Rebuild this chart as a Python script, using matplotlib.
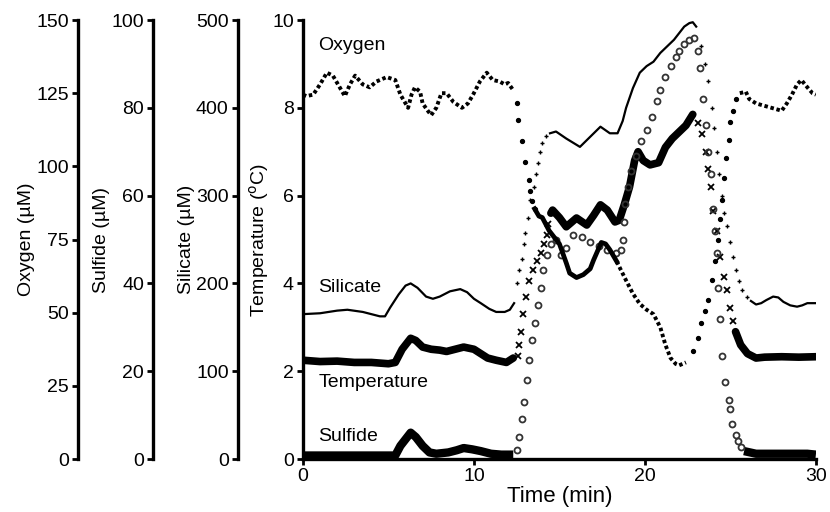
import numpy as np
import matplotlib
matplotlib.use('Agg')
import matplotlib.pyplot as plt

plt.rcParams['font.family'] = ['Liberation Sans', 'DejaVu Sans']

# --- oxygen (uM) ---
oxy_a_t = [0.0, 0.2, 0.6, 1.0, 1.4, 1.75, 2.15, 2.45, 2.75, 3.05, 3.5, 3.9, 4.3, 4.9, 5.4, 5.7, 6.0, 6.15, 6.35, 6.55,
           6.85, 7.0, 7.3, 7.5, 7.8, 8.1, 8.4, 8.8, 9.3, 9.65, 9.95, 10.35, 10.75, 11.1, 11.5, 11.8, 12.0, 12.3]
oxy_a = [124.5, 124, 124.5, 128, 132, 131, 127, 124, 128, 131, 128, 127, 129, 130.5, 129.5, 124.5, 121.5, 120, 124.5, 127,
         125.5, 121.5, 119, 117.5, 120, 125, 125, 122, 120, 121.5, 124.5, 129, 132, 129.5, 129, 128, 128.5, 126]
oxy_drop_t = [12.5, 12.6, 12.8, 13.0, 13.2, 13.3, 13.4, 13.55]
oxy_drop = [121.5, 116, 108.5, 101.5, 95.5, 91.5, 88, 85.5]
oxy_b_t = [13.55, 13.8, 14.0, 14.4, 15.0, 15.4, 15.6, 16.0, 16.4, 16.8, 17.0, 17.45, 17.7, 17.95, 18.35]
oxy_b = [85.5, 83, 82.5, 78, 73.5, 67, 63.5, 62, 63, 65, 68, 74, 73.5, 71.5, 67.5]
oxy_c_t = [18.35, 18.9, 19.3, 19.7, 20.1, 20.5, 20.9, 21.2, 21.5, 21.8, 22.0, 22.4]
oxy_c = [67.5, 61, 56.5, 53, 51, 49.5, 45, 39, 34.5, 32.5, 32, 33]
oxy_rise_t = [22.8, 23.1, 23.3, 23.5, 23.7, 23.9, 24.1, 24.3, 24.4, 24.5, 24.6, 24.75, 24.9, 25.0, 25.15, 25.35]
oxy_rise = [37, 41.5, 46.5, 50.5, 54.5, 61, 67.5, 75, 82, 88.5, 96, 103, 109, 115, 119, 123]
oxy_d_t = [25.55, 25.9, 26.1, 26.5, 27.1, 27.7, 28.0, 28.3, 28.6, 28.9, 29.15, 29.5, 29.8, 30.0]
oxy_d = [125, 125.5, 123, 121.5, 120.5, 119.5, 119, 121.5, 124.5, 128, 129.5, 127, 125, 124.5]

# --- silicate (uM) ---
sil_a_t = [0.0, 1.0, 2.0, 2.6, 3.5, 4.5, 4.8, 5.1, 5.6, 6.0, 6.3, 6.7, 7.2, 7.6, 8.0, 8.6, 9.2, 9.6, 10.0, 10.4,
           10.9, 11.3, 11.8, 12.1, 12.35]
sil_a = [165, 166, 169, 170, 167.5, 162.5, 162.5, 172.5, 187.5, 197.5, 200, 195, 185, 182.5, 185, 191, 193.5, 190,
         182.5, 177.5, 171, 167.5, 167.5, 170, 177.5]
sil_rise_t = [12.5, 12.65, 12.8, 12.9, 13.0, 13.15, 13.3, 13.5, 13.65, 13.75, 13.85, 14.0, 14.2]
sil_rise = [200, 215, 227.5, 245, 257.5, 275, 295, 310, 325, 337.5, 350, 360, 367.5]
sil_b_t = [14.45, 14.8, 15.4, 16.2, 16.8, 17.4, 17.95, 18.4, 18.7, 18.9, 19.3, 19.7, 20.1, 20.5, 20.9, 21.3, 21.7,
           22.0, 22.3, 22.6, 22.8, 23.0]
sil_b = [371, 373, 365, 355.5, 367, 378.5, 371, 371, 385, 400, 422.5, 440, 447.5, 452.5, 462.5, 470, 477.5, 485,
         492.5, 496.5, 497.5, 492.5]
sil_fall_t = [23.3, 23.5, 23.7, 23.9, 24.05, 24.2, 24.35, 24.5, 24.65, 24.8, 25.0, 25.15, 25.3, 25.5, 25.7, 25.95]
sil_fall = [470, 450, 430, 400, 377.5, 350, 325, 300, 280, 265, 247.5, 230, 215, 202.5, 192.5, 185]
sil_c_t = [26.2, 26.5, 26.8, 27.1, 27.5, 27.8, 28.1, 28.5, 28.9, 29.2, 29.5, 29.95]
sil_c = [180, 176, 177.5, 181, 185, 184, 179, 175, 173.5, 175, 177.5, 177.5]

# --- temperature (C) ---
temp_a_t = [0, 1, 2, 3, 4, 5, 5.4, 5.8, 6.3, 6.6, 7.0, 7.5, 8.0, 8.4, 8.9, 9.4, 10.0, 10.4, 10.8, 11.3, 11.9, 12.3]
temp_a = [2.25, 2.22, 2.23, 2.2, 2.2, 2.17, 2.2, 2.5, 2.75, 2.7, 2.55, 2.5, 2.48, 2.45, 2.5, 2.55, 2.5, 2.4, 2.3,
          2.25, 2.2, 2.3]
temp_rise_t = [12.55, 12.65, 12.75, 12.85, 13.05, 13.25, 13.45, 13.7, 13.9, 14.1, 14.25, 14.35]
temp_rise = [2.35, 2.6, 2.9, 3.3, 3.7, 4.05, 4.3, 4.5, 4.7, 4.9, 5.1, 5.35]
temp_b_t = [14.5, 14.6, 15.0, 15.4, 16.0, 16.6, 17.0, 17.4, 17.8, 18.25, 18.5, 18.8, 19.1, 19.4, 19.6, 19.9, 20.3,
            20.8, 21.2, 21.6, 22.0, 22.4, 22.8]
temp_b = [5.6, 5.67, 5.5, 5.29, 5.49, 5.33, 5.55, 5.79, 5.67, 5.4, 5.44, 5.8, 6.2, 6.8, 7.0, 6.8, 6.7, 6.75, 7.1,
          7.3, 7.45, 7.6, 7.85]
temp_fall_t = [23.1, 23.35, 23.55, 23.7, 23.85, 24.0, 24.2, 24.4, 24.6, 24.8, 25.0, 25.15]
temp_fall = [7.65, 7.4, 7.0, 6.6, 6.2, 5.65, 5.2, 4.6, 4.15, 3.85, 3.45, 3.15]
temp_c_t = [25.3, 25.6, 26.0, 26.5, 27, 28, 29, 30]
temp_c = [2.9, 2.6, 2.4, 2.3, 2.32, 2.33, 2.32, 2.33]

# --- sulfide (uM) ---
sul_a_t = [0, 2, 4, 5.4, 5.7, 6.0, 6.3, 6.6, 7.0, 7.4, 7.8, 8.5, 9.0, 9.4, 9.9, 10.4, 11.0, 11.6, 12.3]
sul_a = [0.8, 0.8, 0.8, 0.8, 3, 4.5, 6, 5, 3, 1.5, 1.2, 1.5, 2, 2.5, 2.2, 1.8, 1.2, 1, 1]
sul_pts_t = [12.5, 12.65, 12.8, 12.95, 13.1, 13.25, 13.4, 13.6, 13.75, 13.9, 14.05, 14.25, 14.5, 14.8, 15.1, 15.4,
             15.8, 16.3, 16.8, 17.3, 17.8, 18.3, 18.6, 18.7, 18.75, 18.85, 19.0, 19.2, 19.5, 19.8, 20.1, 20.4, 20.7,
             20.9, 21.2, 21.5, 21.8, 22.0, 22.3, 22.6, 22.9, 23.1, 23.25, 23.4, 23.55, 23.7, 23.85, 24.0, 24.1, 24.2,
             24.3, 24.4, 24.5, 24.7, 24.9, 25.0, 25.1, 25.3, 25.45, 25.6]
sul_pts = [2, 5, 9, 13, 18, 22.5, 27, 31, 35, 39, 43, 46.5, 49, 50, 46.5, 48, 51, 50.5, 49.5, 48.5,
           47.5, 47, 47.5, 50, 54, 58, 62, 65.5, 69, 72.5, 75, 78, 81.5, 84, 87, 89.5, 91.5, 93, 94.5, 95.5,
           96, 93, 89, 82, 76, 70, 65, 57, 52, 47, 39, 32, 23.5, 17.5, 13.5, 11.5, 8, 5.5, 4, 2.8]
sul_c_t = [25.8, 26.5, 27.5, 28.5, 29.5, 30]
sul_c = [1.8, 1.2, 1.2, 1.2, 1.2, 1.0]

fs = 14
fig = plt.figure(figsize=(8.3, 5.12), dpi=100)
ax = fig.add_axes([0.365, 0.1035, 0.618, 0.8574])


def style_axis(a):
    for s in ['top', 'right', 'bottom']:
        a.spines[s].set_visible(False)
    a.spines['left'].set_visible(True)
    a.spines['left'].set_linewidth(2.4)
    a.tick_params(axis='y', direction='out', length=4.5, width=2, labelsize=fs, pad=2)


def side_axis(offset, top, ticks, label):
    a = ax.twinx()
    style_axis(a)
    a.spines['left'].set_position(('outward', offset))
    a.yaxis.set_ticks_position('left')
    a.yaxis.set_label_position('left')
    a.set_ylim(0, top)
    a.set_yticks(ticks)
    a.set_ylabel(label, fontsize=fs, labelpad=1)
    return a


# main axis: temperature
style_axis(ax)
ax.spines['bottom'].set_visible(True)
ax.spines['bottom'].set_linewidth(2.4)
ax.tick_params(axis='x', direction='out', length=4.5, width=2, labelsize=fs, pad=2)
ax.set_xlim(0, 30)
ax.set_ylim(0, 10)
ax.set_xticks([0, 10, 20, 30])
ax.set_yticks([0, 2, 4, 6, 8, 10])
ax.set_xlabel('Time (min)', fontsize=16, labelpad=1)
ax.set_ylabel('Temperature ($^{\\mathrm{o}}$C)', fontsize=fs, labelpad=1)

ax_si = side_axis(47, 500, [0, 100, 200, 300, 400, 500], 'Silicate (\u00b5M)')
ax_su = side_axis(108, 100, [0, 20, 40, 60, 80, 100], 'Sulfide (\u00b5M)')
ax_ox = side_axis(162, 150, [0, 25, 50, 75, 100, 125, 150], 'Oxygen (\u00b5M)')

k = 'black'
# temperature: thick trace, x markers where it changes fast
for t, v in [(temp_a_t, temp_a), (temp_b_t, temp_b), (temp_c_t, temp_c)]:
    ax.plot(t, v, color=k, lw=5.5, solid_capstyle='round')
for t, v in [(temp_rise_t, temp_rise), (temp_fall_t, temp_fall)]:
    ax.plot(t, v, ls='none', marker='x', ms=3.8, mew=1.3, color=k)

# silicate: thin trace, + markers
for t, v in [(sil_a_t, sil_a), (sil_b_t, sil_b), (sil_c_t, sil_c)]:
    ax_si.plot(t, v, color=k, lw=1.6)
for t, v in [(sil_rise_t, sil_rise), (sil_fall_t, sil_fall)]:
    ax_si.plot(t, v, ls='none', marker='+', ms=3.2, mew=1.0, color=k)

# sulfide: thick band near zero, open circles elsewhere
for t, v in [(sul_a_t, sul_a), (sul_c_t, sul_c)]:
    ax_su.plot(t, v, color=k, lw=6, solid_capstyle='butt')
ax_su.plot(sul_pts_t, sul_pts, ls='none', marker='o', ms=4.3, mfc='none', mec='0.2', mew=1.3)

# oxygen: dotted trace, dots during fast changes
for t, v in [(oxy_a_t, oxy_a), (oxy_c_t, oxy_c), (oxy_d_t, oxy_d)]:
    ax_ox.plot(t, v, color=k, lw=2.8, ls=(0, (0.9, 0.7)))
ax_ox.plot(oxy_b_t, oxy_b, color=k, lw=3.4)
for t, v in [(oxy_drop_t, oxy_drop), (oxy_rise_t, oxy_rise)]:
    ax_ox.plot(t, v, ls='none', marker='o', ms=2.8, color=k)

for name, yy in [('Oxygen', 9.32), ('Silicate', 3.81), ('Temperature', 1.65), ('Sulfide', 0.42)]:
    ax.text(0.9, yy, name, fontsize=fs, va='baseline', ha='left')

fig.savefig('out.png', dpi=100)
